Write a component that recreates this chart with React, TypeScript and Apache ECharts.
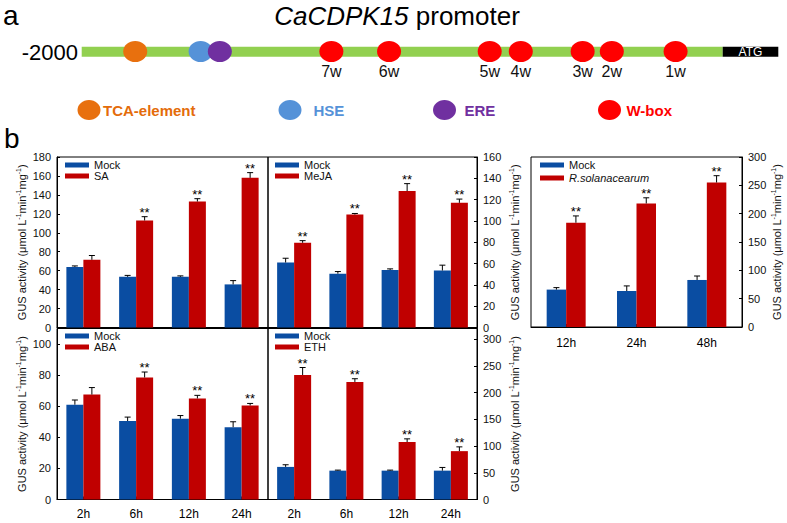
import React, { useEffect, useRef } from 'react';
import * as echarts from 'echarts';

// ---------- promoter diagram data (positions in bp relative to ATG) ----------
const promoterRange = [-2000, 0];
const tcaPos = [-1833];
const hsePos = [-1629];
const erePos = [-1569];
const wboxPos = [-1221, -1041, -727, -630, -437, -346, -147];
const wboxLabels = ['7w', '6w', '5w', '4w', '3w', '2w', '1w'];

// ---------- GUS activity data ----------
const timeCats = ['2h', '6h', '12h', '24h'];
const rsCats = ['12h', '24h', '48h'];

const saMock = [64, 53.5, 53.5, 45.5];
const saMockErr = [1, 1.5, 1, 4];
const saVal = [71.5, 113, 133, 158];
const saErr = [4.5, 4, 3, 5.5];
const saSig = ['', '**', '**', '**'];

const mejaMock = [61, 50.5, 54, 53.5];
const mejaMockErr = [4, 2, 1, 5];
const mejaVal = [79.5, 106, 128, 117];
const mejaErr = [2, 1, 7, 3.5];
const mejaSig = ['**', '**', '**', '**'];

const rsMock = [66, 63.5, 83];
const rsMockErr = [3.5, 9, 7];
const rsVal = [184, 218, 255];
const rsErr = [12, 10, 12];
const rsSig = ['**', '**', '**'];

const abaMock = [61, 50.5, 52, 46.5];
const abaMockErr = [3, 2.5, 2, 3.5];
const abaVal = [67.5, 78.5, 65, 60.5];
const abaErr = [4.5, 3.5, 2, 1.3];
const abaSig = ['', '**', '**', '**'];

const ethMock = [61, 54, 54, 54];
const ethMockErr = [4, 1, 1, 6];
const ethVal = [233, 220, 107.5, 90.5];
const ethErr = [14, 6, 6, 8];
const ethSig = ['**', '**', '**', '**'];

const FONT = 'Arial, "Liberation Sans", Helvetica, sans-serif';
const BLUE = '#0A4DA2';
const RED = '#C00000';
const Y_NAME = 'GUS activity (μmol L{s|-1}min{s|-1}mg{s|-1})';

const ELLIPSE = 'path://M0,10 A10,10 0 1,1 20,10 A10,10 0 1,1 0,10 Z';

type Panel = {
  grid: { left: number; top: number; width: number; height: number };
  cats: string[];
  mock: number[];
  mockErr: number[];
  val: number[];
  err: number[];
  sig: string[];
  treat: string;
  yMax: number;
  interval: number;
  side: 'left' | 'right';
  showX: boolean;
  barWidth: number;
  nameGap: number;
  legend: { left: number; top: number; gap: number };
  xMargin: number;
  hideMax: boolean;
};

const panels: Panel[] = [
  {
    grid: { left: 57, top: 157, width: 211, height: 170.5 },
    cats: timeCats, mock: saMock, mockErr: saMockErr, val: saVal, err: saErr, sig: saSig,
    treat: 'SA', yMax: 180, interval: 20, side: 'left', showX: false, barWidth: 17, nameGap: 26,
    legend: { left: 65, top: 159.5, gap: 0 }, xMargin: 8, hideMax: false,
  },
  {
    grid: { left: 268, top: 157, width: 209, height: 170.5 },
    cats: timeCats, mock: mejaMock, mockErr: mejaMockErr, val: mejaVal, err: mejaErr, sig: mejaSig,
    treat: 'MeJA', yMax: 160, interval: 20, side: 'right', showX: false, barWidth: 17, nameGap: 31,
    legend: { left: 275, top: 159.5, gap: 0 }, xMargin: 8, hideMax: false,
  },
  {
    grid: { left: 531, top: 157, width: 211, height: 170 },
    cats: rsCats, mock: rsMock, mockErr: rsMockErr, val: rsVal, err: rsErr, sig: rsSig,
    treat: 'R.solanacearum', yMax: 300, interval: 50, side: 'right', showX: true, barWidth: 19.5, nameGap: 27,
    legend: { left: 540, top: 159.5, gap: 2 }, xMargin: 10, hideMax: false,
  },
  {
    grid: { left: 57, top: 328.5, width: 211, height: 171 },
    cats: timeCats, mock: abaMock, mockErr: abaMockErr, val: abaVal, err: abaErr, sig: abaSig,
    treat: 'ABA', yMax: 110, interval: 20, side: 'left', showX: true, barWidth: 17, nameGap: 26,
    legend: { left: 65, top: 330.5, gap: 0 }, xMargin: 8, hideMax: true,
  },
  {
    grid: { left: 268, top: 328.5, width: 209, height: 171 },
    cats: timeCats, mock: ethMock, mockErr: ethMockErr, val: ethVal, err: ethErr, sig: ethSig,
    treat: 'ETH', yMax: 320, interval: 50, side: 'right', showX: true, barWidth: 17, nameGap: 31,
    legend: { left: 275, top: 330.5, gap: 0 }, xMargin: 8, hideMax: true,
  },
];

function errRender(offset: number, sig: string[] | null) {
  return (params: any, api: any) => {
    const i = api.value(0);
    const v = api.value(1);
    const e = api.value(2);
    const p0 = api.coord([i, v]);
    const p1 = api.coord([i, v + e]);
    const x = p0[0] + offset;
    const children: any[] = [
      { type: 'line', shape: { x1: x, y1: p0[1], x2: x, y2: p1[1] }, style: { stroke: '#000', lineWidth: 1 } },
      { type: 'line', shape: { x1: x - 3, y1: p1[1], x2: x + 3, y2: p1[1] }, style: { stroke: '#000', lineWidth: 1 } },
    ];
    const s = sig ? sig[params.dataIndex] : '';
    if (s) {
      children.push({
        type: 'text',
        x,
        y: p1[1] + 2,
        style: { text: s, align: 'center', verticalAlign: 'bottom', fontSize: 13, fontFamily: FONT, fill: '#000' },
      });
    }
    return { type: 'group', children };
  };
}

function buildOption() {
  const grids: any[] = [];
  const xAxes: any[] = [];
  const yAxes: any[] = [];
  const series: any[] = [];
  const legends: any[] = [];

  panels.forEach((p, k) => {
    grids.push({ ...p.grid, show: true, borderColor: '#000', borderWidth: 1, backgroundColor: 'transparent' });
    xAxes.push({
      type: 'category',
      gridIndex: k,
      data: p.cats,
      axisLine: { show: true, lineStyle: { color: '#000', width: 1 } },
      axisTick: { show: p.showX, inside: true, length: 3, alignWithLabel: true, lineStyle: { color: '#000' } },
      axisLabel: { show: p.showX, fontSize: 12, color: '#000', fontFamily: FONT, margin: p.xMargin },
      splitLine: { show: false },
    });
    yAxes.push({
      type: 'value',
      gridIndex: k,
      position: p.side,
      min: 0,
      max: p.yMax,
      interval: p.interval,
      axisLine: { show: true, lineStyle: { color: '#000', width: 1 } },
      axisTick: { show: true, inside: true, length: 3, lineStyle: { color: '#000' } },
      axisLabel: { fontSize: 11, color: '#111', fontFamily: FONT, margin: 6, showMaxLabel: !p.hideMax },
      splitLine: { show: false },
      name: Y_NAME,
      nameLocation: 'middle',
      nameRotate: 90,
      nameGap: p.nameGap,
      nameTextStyle: {
        fontSize: 11,
        color: '#111',
        fontFamily: FONT,
        lineHeight: 14,
        rich: { s: { fontSize: 7, lineHeight: 14, verticalAlign: 'top', fontFamily: FONT, color: '#111' } },
      },
    });
    const mockData = p.mock;
    const valData = p.val;
    series.push({
      type: 'bar', name: 'Mock', xAxisIndex: k, yAxisIndex: k, data: mockData,
      barWidth: p.barWidth, barGap: '0%', itemStyle: { color: BLUE }, silent: true,
    });
    series.push({
      type: 'bar', name: p.treat, xAxisIndex: k, yAxisIndex: k, data: valData,
      barWidth: p.barWidth, barGap: '0%', itemStyle: { color: RED }, silent: true,
    });
    series.push({
      type: 'custom', name: 'errMock' + k, xAxisIndex: k, yAxisIndex: k,
      data: p.mock.map((v, i) => [i, v, p.mockErr[i]]),
      encode: { x: 0, y: 1 },
      renderItem: errRender(-p.barWidth / 2, null), z: 3, silent: true,
    });
    series.push({
      type: 'custom', name: 'errTreat' + k, xAxisIndex: k, yAxisIndex: k,
      data: p.val.map((v, i) => [i, v, p.err[i]]),
      encode: { x: 0, y: 1 },
      renderItem: errRender(p.barWidth / 2, p.sig), z: 3, silent: true,
    });
    legends.push({
      left: p.legend.left,
      top: p.legend.top,
      orient: 'vertical',
      icon: 'rect',
      itemWidth: 24,
      itemHeight: 5,
      itemGap: p.legend.gap,
      padding: 0,
      selectedMode: false,
      data: ['Mock', p.treat],
      formatter: (name: string) => (name === 'R.solanacearum' ? '{i|' + name + '}' : name),
      textStyle: {
        fontSize: 11, lineHeight: 11, color: '#111', fontFamily: FONT,
        rich: { i: { fontSize: 11, lineHeight: 11, fontStyle: 'italic', fontFamily: FONT, color: '#111' } },
      },
    });
  });

  // promoter grid
  const pg = panels.length;
  grids.push({ left: 81.7, top: 41, width: 641, height: 21, show: false });
  xAxes.push({ type: 'value', gridIndex: pg, min: promoterRange[0], max: promoterRange[1], show: false });
  yAxes.push({ type: 'value', gridIndex: pg, min: 0, max: 1, show: false });
  const sc = (name: string, pos: number[], color: string, labels?: string[]) => ({
    type: 'scatter', name, xAxisIndex: pg, yAxisIndex: pg,
    data: pos.map((x) => [x, 0.5]),
    symbol: ELLIPSE, symbolSize: [24, 21], itemStyle: { color, opacity: 1 }, silent: true, z: 5,
    label: labels
      ? {
          show: true, position: 'bottom', distance: 1, fontSize: 16, color: '#111', fontFamily: FONT,
          formatter: (q: any) => labels[q.dataIndex],
        }
      : { show: false },
  });
  series.push(sc('TCA-element', tcaPos, '#E8700E'));
  series.push(sc('HSE', hsePos, '#5592D8'));
  series.push(sc('ERE', erePos, '#7030A0'));
  series.push(sc('W-box', wboxPos, '#FF0000', wboxLabels));

  const legRow = [
    { cx: 89, tx: 103, text: 'TCA-element', color: '#E46C0A' },
    { cx: 290, tx: 313.5, text: 'HSE', color: '#5592D8' },
    { cx: 444.5, tx: 464.5, text: 'ERE', color: '#7030A0' },
    { cx: 609.5, tx: 626.5, text: 'W-box', color: '#FF0000' },
  ];
  const circleColors = ['#E8700E', '#5592D8', '#7030A0', '#FF0000'];

  const graphic: any[] = [
    { type: 'text', left: 3, top: 1, style: { text: 'a', fontSize: 28, fontFamily: FONT, fill: '#000' } },
    {
      type: 'text', x: 397, y: 16,
      style: {
        text: '{i|CaCDPK15} promoter', fontSize: 26, fontFamily: FONT, fill: '#000', align: 'center', verticalAlign: 'middle',
        rich: { i: { fontSize: 26, fontStyle: 'italic', fontFamily: FONT, fill: '#000' } },
      },
    },
    { type: 'text', x: 78, y: 52, style: { text: '-2000', fontSize: 22, fontFamily: FONT, fill: '#000', align: 'right', verticalAlign: 'middle' } },
    { type: 'rect', shape: { x: 81.7, y: 46.7, width: 641, height: 10 }, style: { fill: '#92D050' }, z: 0 },
    { type: 'rect', shape: { x: 722.7, y: 46.7, width: 55.6, height: 10 }, style: { fill: '#000' }, z: 0 },
    { type: 'text', x: 750.5, y: 52, style: { text: 'ATG', fontSize: 12, fontFamily: FONT, fill: '#fff', align: 'center', verticalAlign: 'middle' } },
    { type: 'text', left: 4, top: 124, style: { text: 'b', fontSize: 28, fontFamily: FONT, fill: '#000' } },
  ];
  legRow.forEach((l, i) => {
    graphic.push({ type: 'ellipse', shape: { cx: l.cx, cy: 110, rx: 11.5, ry: 10 }, style: { fill: circleColors[i] } });
    graphic.push({
      type: 'text', x: l.tx, y: 110,
      style: { text: l.text, fontSize: 15, fontWeight: 'bold', fontFamily: FONT, fill: l.color, align: 'left', verticalAlign: 'middle' },
    });
  });

  return {
    animation: false,
    backgroundColor: '#fff',
    textStyle: { fontFamily: FONT },
    grid: grids,
    xAxis: xAxes,
    yAxis: yAxes,
    legend: legends,
    series,
    graphic,
  };
}

export default function App() {
  const ref = useRef<HTMLDivElement>(null);
  useEffect(() => {
    if (!ref.current) return;
    const chart = echarts.init(ref.current, undefined, { renderer: 'svg' });
    chart.setOption(buildOption() as any);
    return () => chart.dispose();
  }, []);
  return <div ref={ref} style={{ position: 'absolute', left: 0, top: 0, width: 787, height: 523 }} />;
}
